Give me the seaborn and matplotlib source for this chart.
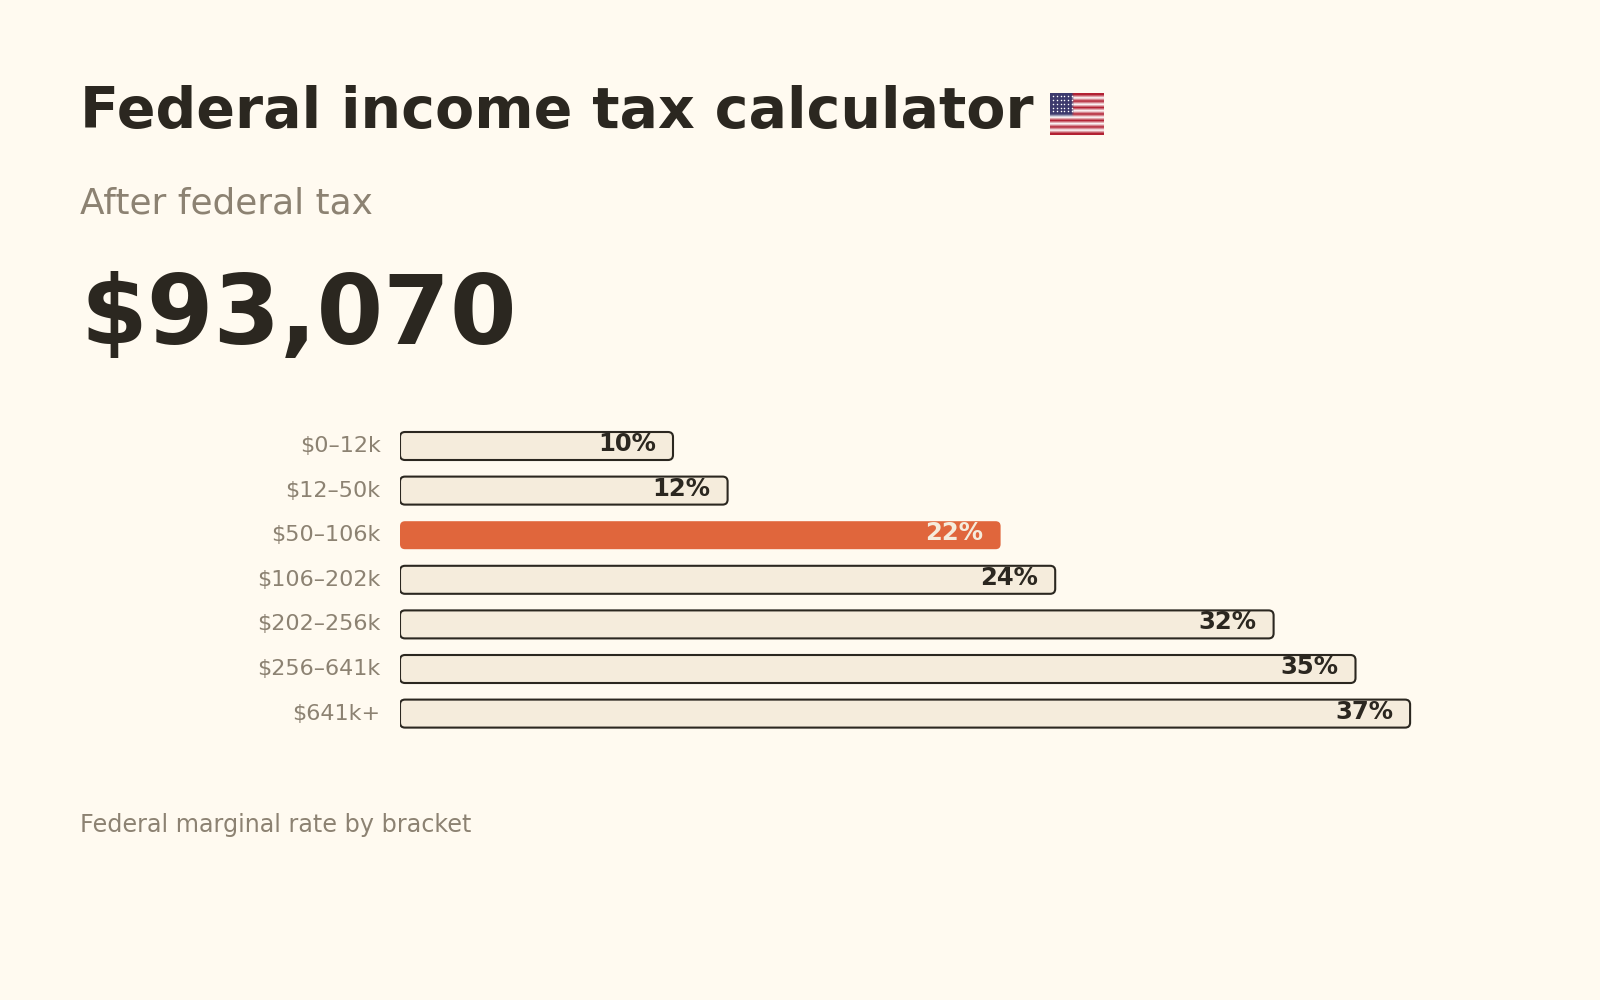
import matplotlib

matplotlib.use('Agg')
import matplotlib.pyplot as plt
import seaborn as sns
import numpy as np
import pandas as pd
from matplotlib.patches import FancyBboxPatch

# data
brackets = ['$0–12k', '$12–50k', '$50–106k', '$106–202k', '$202–256k', '$256–641k', '$641k+']
rates = [10, 12, 22, 24, 32, 35, 37]
current_bracket = '$50–106k'
after_tax = 93070

BG = '#fffaf0'
INK = '#2b2720'
MUTED = '#8c8272'
BAR = '#f5ecdc'
HOT = '#e0663c'

sns.set_theme(style='white')
plt.rcParams['font.family'] = ['DejaVu Sans']

fig = plt.figure(figsize=(16, 10), dpi=100, facecolor=BG)

fig.text(0.05, 0.872, 'Federal income tax calculator', fontsize=41, weight='bold',
         color=INK, va='baseline', ha='left')
fig.text(0.05, 0.786, 'After federal tax', fontsize=25.8, color=MUTED, va='baseline', ha='left')
fig.text(0.05, 0.656, f'${after_tax:,}', fontsize=69, weight='bold', color=INK,
         va='baseline', ha='left')
fig.text(0.05, 0.168, 'Federal marginal rate by bracket', fontsize=17.2, color=MUTED,
         va='baseline', ha='left')

# small flag next to the title (no emoji font available)
stripes = np.array([[0.70, 0.13, 0.20] if i % 2 == 0 else [1.0, 1.0, 1.0] for i in range(13)])
flag = np.repeat(stripes[:, None, :], 19, axis=1)
flag[:7, :8] = [0.24, 0.23, 0.43]
fax = fig.add_axes([1050 / 1600, 1 - 135 / 1000, 54 / 1600, 42 / 1000])
fax.imshow(flag, aspect='auto', interpolation='bilinear')
sx, sy = np.meshgrid(np.arange(0.6, 7.5, 1.3), np.arange(0.4, 6.2, 1.2))
fax.scatter(sx.ravel(), sy.ravel(), s=1.2, color='white', linewidths=0)
fax.set_xlim(-0.5, 18.5)
fax.set_ylim(12.5, -0.5)
fax.axis('off')

# bar chart
df = pd.DataFrame({'bracket': brackets, 'rate': rates})
palette = {b: (HOT if b == current_bracket else BAR) for b in brackets}

row_px = 44.6
ax = fig.add_axes([400 / 1600, 1 - (446 + 6.5 * row_px) / 1000, 1092 / 1600, 7 * row_px / 1000])
ax.set_facecolor(BG)
sns.barplot(data=df, y='bracket', x='rate', hue='bracket', palette=palette,
            legend=False, orient='h', width=28 / row_px, ax=ax)
ax.set_xlim(0, 40)
ax.set_ylim(6.5, -0.5)

# swap rectangles for rounded boxes
x_px = 1092 / 40
y_px = row_px
for patch, b in zip(list(ax.patches), brackets):
    x0, y0 = patch.get_x(), patch.get_y()
    w, h = patch.get_width(), patch.get_height()
    patch.remove()
    hot = b == current_bracket
    box = FancyBboxPatch((x0, y0), w, h,
                         boxstyle=f'round,pad=0,rounding_size={5 / x_px}',
                         mutation_aspect=x_px / y_px,
                         facecolor=HOT if hot else BAR,
                         edgecolor='none' if hot else INK,
                         linewidth=0 if hot else 1.5, zorder=2)
    ax.add_patch(box)

for i, (b, r) in enumerate(zip(brackets, rates)):
    hot = b == current_bracket
    ax.text(r - 17 / x_px, i - 2 / y_px, f'{r}%', ha='right', va='center', fontsize=17.5,
            weight='bold', color=BAR if hot else INK, zorder=3)

ax.set_xlabel('')
ax.set_ylabel('')
ax.set_xticks([])
ax.tick_params(axis='y', length=0, pad=14, labelsize=16, labelcolor=MUTED)
for lab in ax.get_yticklabels():
    lab.set_verticalalignment('center')
    lab.set_y(lab.get_position()[1])
sns.despine(ax=ax, left=True, bottom=True)

fig.savefig('out.png', dpi=100, facecolor=BG)
